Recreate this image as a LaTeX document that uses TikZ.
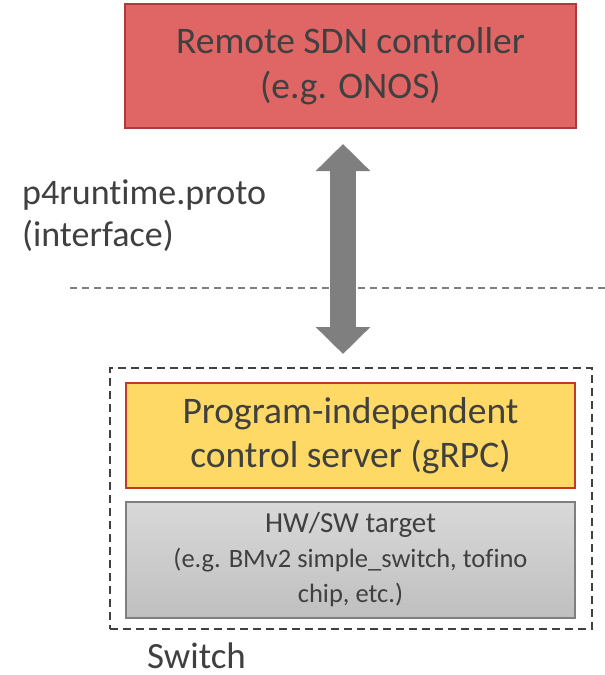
\documentclass[tikz,border=0pt]{standalone}
\usepackage{fontspec}
\setmainfont{Carlito}[Ligatures=NoCommon]
\usetikzlibrary{arrows.meta}

\definecolor{ctrlred}{HTML}{E06666}
\definecolor{ctrledge}{HTML}{B03A3A}
\definecolor{srvyellow}{HTML}{FFD966}
\definecolor{srvedge}{HTML}{C0392B}
\definecolor{tgttop}{HTML}{D9D9D9}
\definecolor{tgtbot}{HTML}{BFBFBF}
\definecolor{tgtedge}{HTML}{7F7F7F}
\definecolor{txtgray}{HTML}{404040}
\definecolor{arrgray}{HTML}{7F7F7F}

\begin{document}
\begin{tikzpicture}[
    x=1pt, y=-1pt,
    ctrlbox/.style={rectangle, minimum width=451pt, minimum height=124pt,
                    draw=ctrledge, line width=1.5pt, fill=ctrlred, align=center,
                    text=txtgray, font=\fontsize{37.5}{45}\selectfont},
    srvbox/.style={rectangle, minimum width=449pt, minimum height=105pt,
                   draw=srvedge, line width=1.8pt, fill=srvyellow, align=center,
                   text=txtgray, font=\fontsize{37.5}{44}\selectfont},
    tgtbox/.style={rectangle, minimum width=449pt, minimum height=116pt,
                   draw=tgtedge, line width=1.8pt, top color=tgttop, bottom color=tgtbot,
                   align=center, text=txtgray, font=\fontsize{26.5}{35}\selectfont},
    swbox/.style={rectangle, minimum width=482pt, minimum height=261pt,
                  draw=txtgray, line width=1.5pt, dash pattern=on 8pt off 5pt},
    lbl/.style={align=left, text=txtgray, inner sep=0pt},
    bigarr/.style={draw=arrgray, line width=26pt,
                   {Triangle[width=53pt, length=27pt]}-{Triangle[width=53pt, length=27pt]}},
    divline/.style={draw=arrgray, line width=1.2pt, dash pattern=on 7pt off 5pt}
]
\useasboundingbox (0,0) rectangle (605,675);

% controller on top
\node[ctrlbox] (ctrl) at (350.5, 66) {Remote SDN controller\\(e.g. ONOS)};

% switch with its two layers
\node[swbox]  (switch) at (351, 498.5) {};
\node[srvbox] (server) at (350.5, 435.5) {Program-independent\\control server (gRPC)};
\node[tgtbox] (target) at (350.5, 560) {{\fontsize{29}{35}\selectfont HW/SW target}\\(e.g. BMv2 simple\_switch, tofino\\chip, etc.)};

% labels
\node[lbl, anchor=base west, font=\fontsize{36}{42}\selectfont] (iface) at (22, 246) {p4runtime.proto\\(interface)};
\node[lbl, anchor=base west, font=\fontsize{37}{40}\selectfont] (swname) at (147, 668) {Switch};

% interface boundary
\coordinate (divL) at (70, 288);
\coordinate (divR) at (605, 288);
\draw[divline] (divL) -- (divR);

% rpc channel
\coordinate (atop) at (343, 144);
\coordinate (abot) at (343, 354);
\draw[bigarr] (atop) -- (abot);

\end{tikzpicture}
\end{document}
